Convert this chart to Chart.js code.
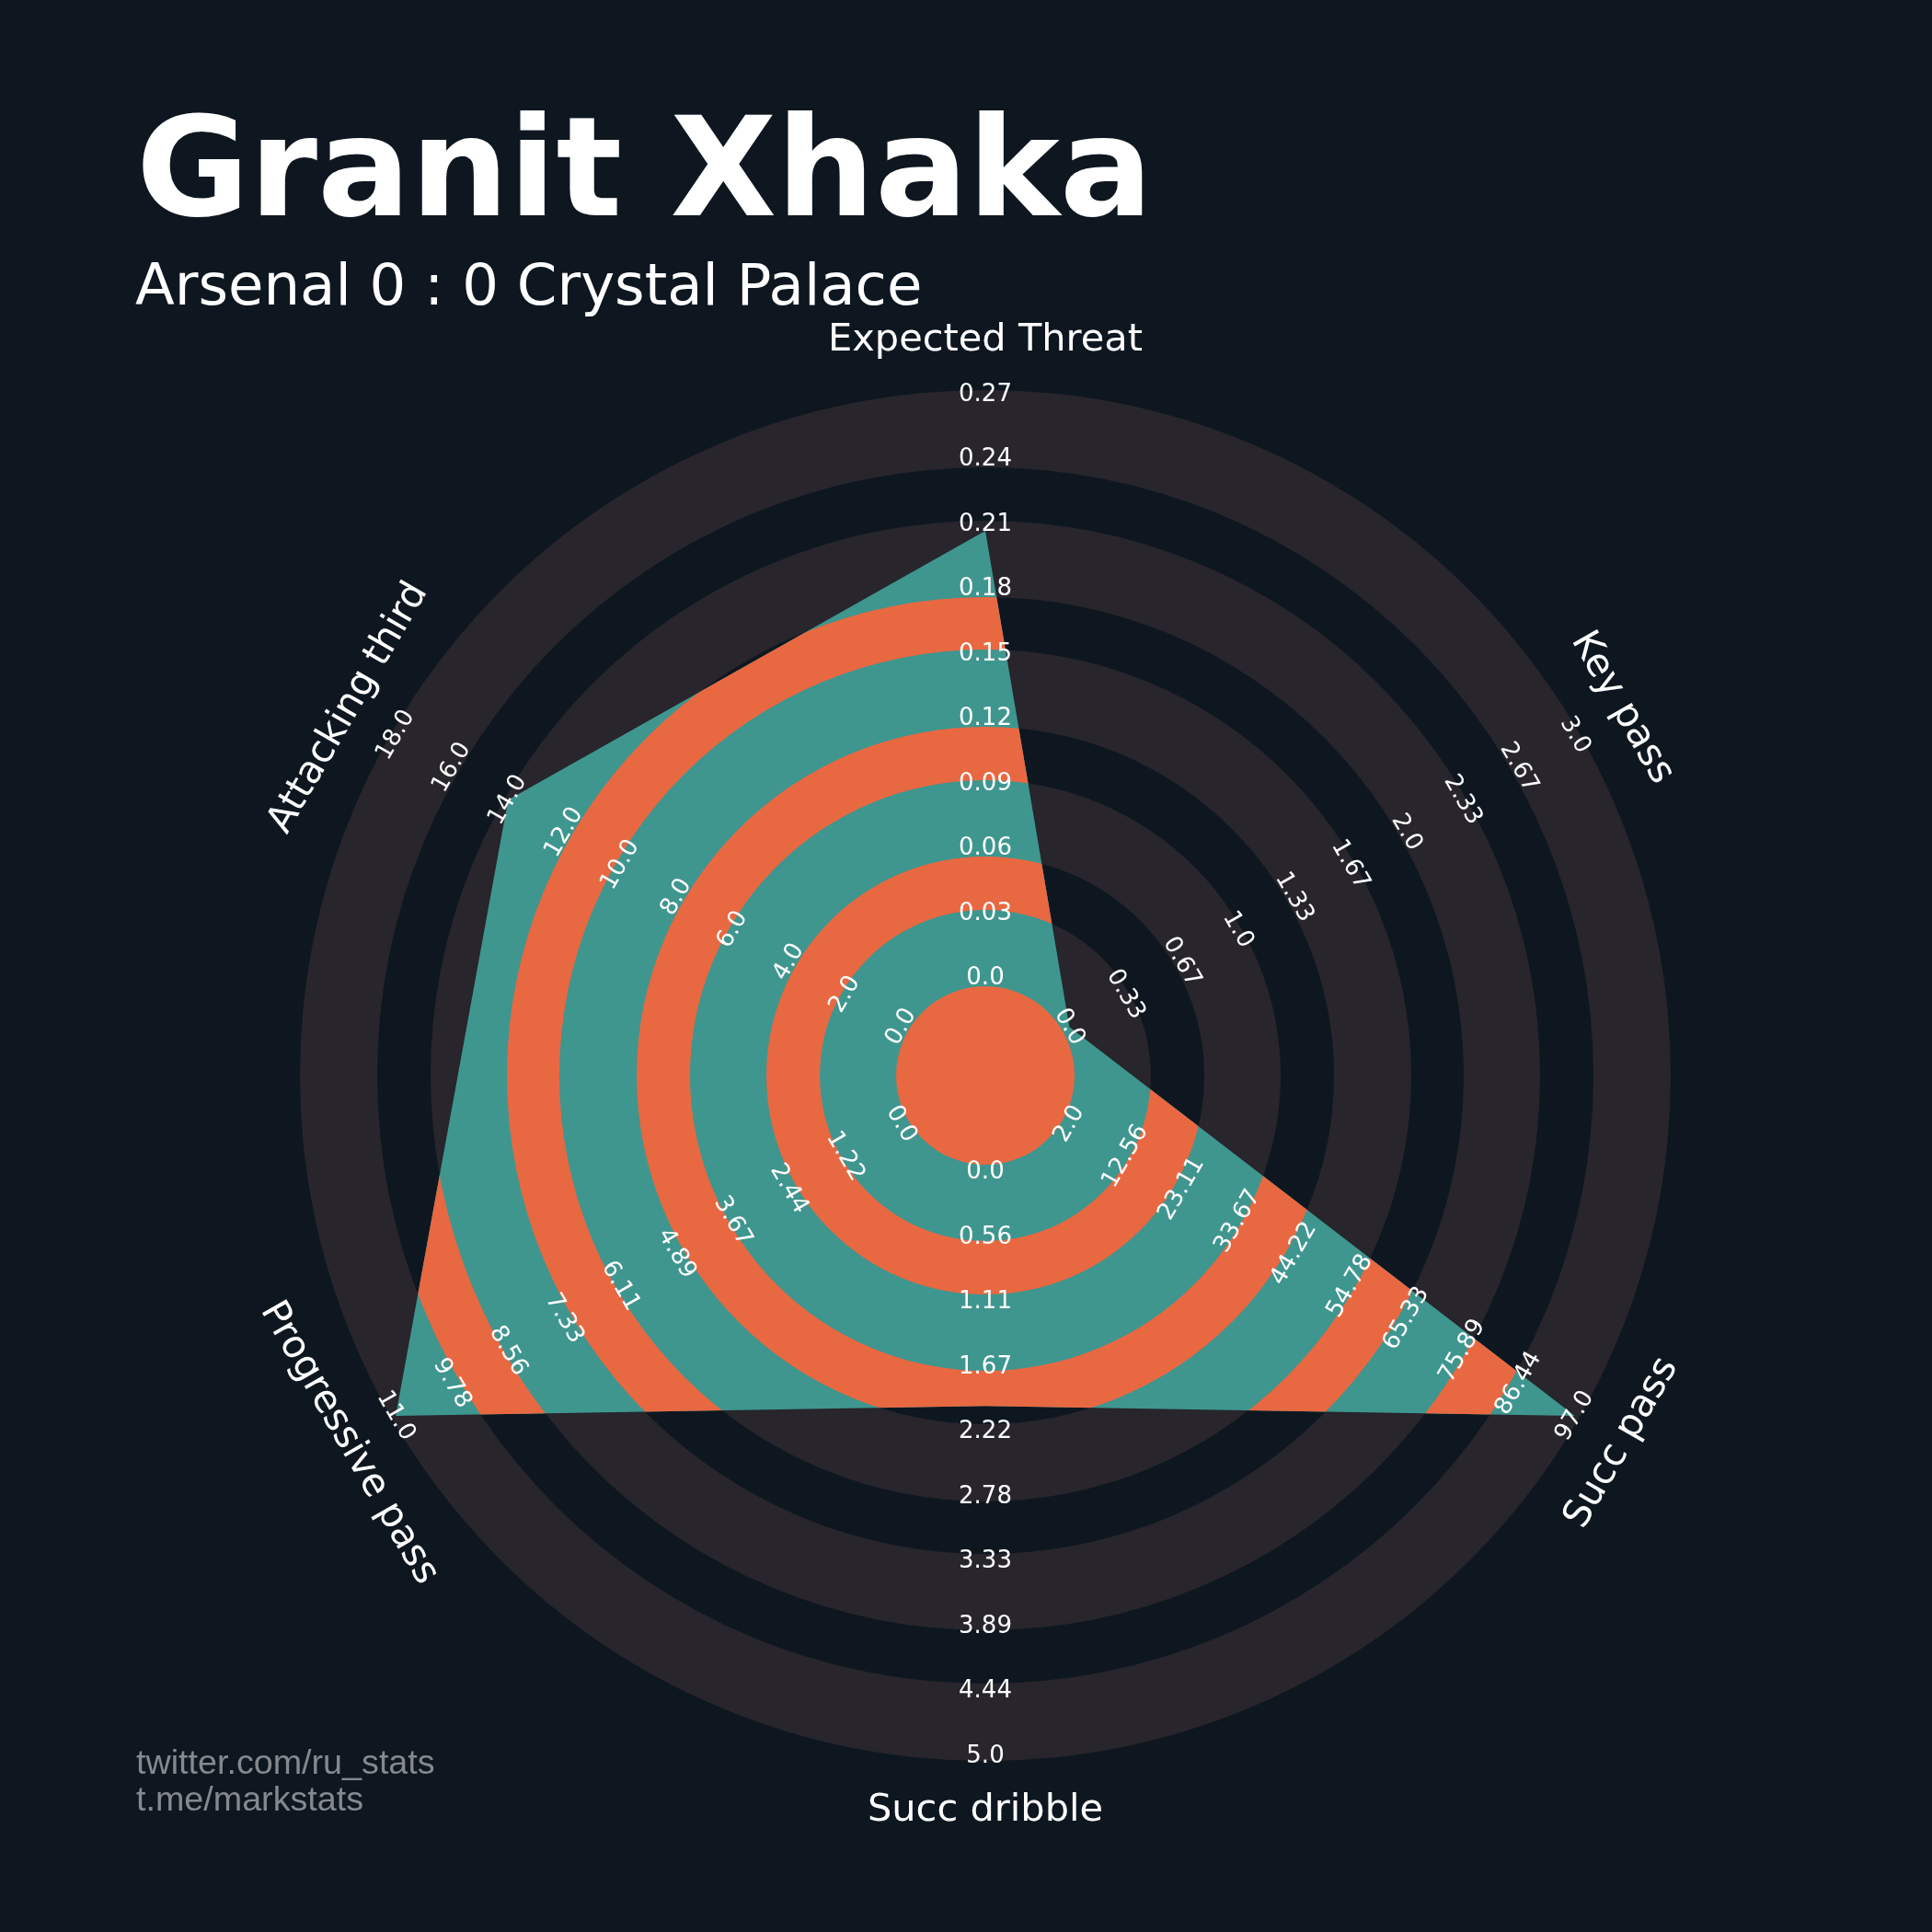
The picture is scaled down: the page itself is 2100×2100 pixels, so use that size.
<!DOCTYPE html>
<html>
<head>
<meta charset="utf-8">
<script src="https://cdn.jsdelivr.net/npm/chart.js@4.4.0/dist/chart.umd.min.js"></script>
<style>
  html, body { margin: 0; padding: 0; background: #0e1720; }
  #wrap { width: 2100px; height: 2100px; position: relative; }
</style>
</head>
<body>
<div id="wrap"><canvas id="radarChart"></canvas></div>
<script>
const params = ['Expected Threat', 'Key pass', 'Succ pass', 'Succ dribble', 'Progressive pass', 'Attacking third'];
const values = [0.207, 0, 97, 2, 11, 14];
const lows = [0, 0, 2, 0, 0, 0];
const highs = [0.27, 3, 97, 5, 11, 18];

const ticksThreat = ['0.0', '0.03', '0.06', '0.09', '0.12', '0.15', '0.18', '0.21', '0.24', '0.27'];
const ticksKeyPass = ['0.0', '0.33', '0.67', '1.0', '1.33', '1.67', '2.0', '2.33', '2.67', '3.0'];
const ticksSuccPass = ['2.0', '12.56', '23.11', '33.67', '44.22', '54.78', '65.33', '75.89', '86.44', '97.0'];
const ticksDribble = ['0.0', '0.56', '1.11', '1.67', '2.22', '2.78', '3.33', '3.89', '4.44', '5.0'];
const ticksProgPass = ['0.0', '1.22', '2.44', '3.67', '4.89', '6.11', '7.33', '8.56', '9.78', '11.0'];
const ticksAttThird = ['0.0', '2.0', '4.0', '6.0', '8.0', '10.0', '12.0', '14.0', '16.0', '18.0'];
const tickLabels = [ticksThreat, ticksKeyPass, ticksSuccPass, ticksDribble, ticksProgPass, ticksAttThird];

const playerName = 'Granit Xhaka';
const matchTitle = 'Arsenal 0 : 0 Crystal Palace';
const credits = ['twitter.com/ru_stats', 't.me/markstats'];

// every axis goes from its low to its high
const scaled = values.map((v, i) => (v - lows[i]) / (highs[i] - lows[i]));

const BG = '#0e1720';
const RING = '#28252c';
const TEAL = '#3e968f';
const ORANGE = '#e86842';

// band edges in px for a 740 px drawing radius
const grayBands = [[97, 180], [238, 321], [379, 463], [520, 603], [661, 745]];
const orangeBands = [[0, 97], [180, 238], [321, 379], [463, 520], [603, 661]];

function annulus(ctx, cx, cy, r0, r1) {
    ctx.beginPath();
    ctx.arc(cx, cy, r1, 0, Math.PI * 2);
    if (r0 > 0) {
        ctx.moveTo(cx + r0, cy);
        ctx.arc(cx, cy, r0, 0, Math.PI * 2, true);
    }
    ctx.fill();
}

function textRotation(i, scale) {
    let deg = scale.getIndexAngle(i) * 180 / Math.PI;
    deg = deg % 180;
    if (deg > 90) deg -= 180;
    return deg * Math.PI / 180;
}

const radarRings = {
    id: 'radarRings',
    beforeDraw(chart) {
        const ctx = chart.ctx;
        const s = chart.scales.r;
        const k = s.drawingArea / 740;
        ctx.save();
        ctx.fillStyle = BG;
        ctx.fillRect(0, 0, chart.width, chart.height);
        ctx.fillStyle = RING;
        grayBands.forEach(b => annulus(ctx, s.xCenter, s.yCenter, b[0] * k, b[1] * k));
        ctx.restore();
    },
    afterDatasetsDraw(chart) {
        const ctx = chart.ctx;
        const s = chart.scales.r;
        const k = s.drawingArea / 740;
        const pts = chart.getDatasetMeta(0).data;

        // rings inside the player shape
        ctx.save();
        ctx.beginPath();
        pts.forEach((p, i) => i ? ctx.lineTo(p.x, p.y) : ctx.moveTo(p.x, p.y));
        ctx.closePath();
        ctx.clip();
        ctx.fillStyle = ORANGE;
        orangeBands.forEach(b => annulus(ctx, s.xCenter, s.yCenter, b[0] * k, b[1] * k));
        ctx.restore();

        // range labels along each axis
        ctx.save();
        ctx.fillStyle = '#ffffff';
        ctx.font = '26px "DejaVu Sans"';
        ctx.textAlign = 'center';
        ctx.textBaseline = 'middle';
        tickLabels.forEach((labels, i) => {
            const rot = textRotation(i, s);
            labels.forEach((txt, j) => {
                const pos = s.getPointPosition(i, s.getDistanceFromCenterForValue(j / (labels.length - 1)));
                ctx.save();
                ctx.translate(pos.x, pos.y);
                ctx.rotate(rot);
                ctx.fillText(txt, 0, 0);
                ctx.restore();
            });
        });

        // parameter names
        ctx.font = '41.5px "DejaVu Sans"';
        params.forEach((name, i) => {
            const pos = s.getPointPosition(i, s.drawingArea + 59);
            ctx.save();
            ctx.translate(pos.x, pos.y);
            ctx.rotate(textRotation(i, s));
            ctx.fillText(name, 0, 0);
            ctx.restore();
        });
        ctx.restore();
    },
    afterDraw(chart) {
        const ctx = chart.ctx;
        ctx.save();
        ctx.fillStyle = '#ffffff';
        ctx.textAlign = 'left';
        ctx.textBaseline = 'alphabetic';
        ctx.font = 'bold 150px "DejaVu Sans"';
        ctx.fillText(playerName, 148, 234);
        ctx.font = '62.5px "DejaVu Sans"';
        ctx.fillText(matchTitle, 147, 331);
        ctx.fillStyle = '#85898e';
        ctx.font = '37.7px "Liberation Sans"';
        credits.forEach((c, i) => ctx.fillText(c, 148, 1928 + i * 40));
        ctx.restore();
    }
};

const radarChart = new Chart(
    document.getElementById('radarChart'),
    {
        type: 'radar',
        data: {
            labels: params,
            datasets: [
                {
                    label: playerName,
                    data: scaled,
                    backgroundColor: TEAL,
                    borderColor: 'rgba(0,0,0,0)',
                    borderWidth: 0,
                    pointRadius: 0,
                    fill: 'start',
                },
            ]
        },
        options: {
            responsive: true,
            maintainAspectRatio: false,
            animation: false,
            events: [],
            layout: {
                padding: { left: 331, top: 429, right: 289, bottom: 191 }
            },
            plugins: {
                legend: { display: false },
                tooltip: { enabled: false },
                title: { display: false }
            },
            scales: {
                r: {
                    min: -0.1663,
                    max: 1,
                    grid: { display: false },
                    angleLines: { display: false },
                    pointLabels: { display: false },
                    ticks: { display: false }
                }
            }
        },
        plugins: [radarRings]
    }
);
</script>
</body>
</html>
